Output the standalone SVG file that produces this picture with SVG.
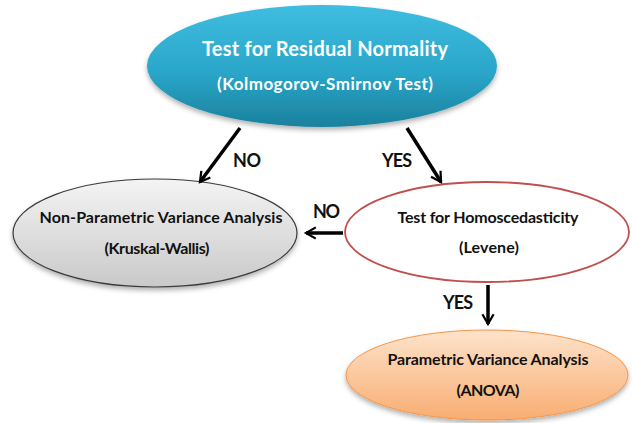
<svg xmlns="http://www.w3.org/2000/svg" width="633" height="423" viewBox="0 0 633 423">
<defs>
<linearGradient id="gBlue" x1="0" y1="0" x2="0" y2="1">
<stop offset="0" stop-color="#3fbde0"/>
<stop offset="0.55" stop-color="#2aa6c9"/>
<stop offset="1" stop-color="#1b819d"/>
</linearGradient>
<linearGradient id="gGrey" x1="0" y1="0" x2="0" y2="1">
<stop offset="0" stop-color="#f4f4f4"/>
<stop offset="1" stop-color="#c9c9c9"/>
</linearGradient>
<linearGradient id="gOrange" x1="0" y1="0" x2="0" y2="1">
<stop offset="0" stop-color="#fde3cc"/>
<stop offset="0.5" stop-color="#fbc89e"/>
<stop offset="1" stop-color="#f8ad72"/>
</linearGradient>
<filter id="shadow" x="-10%" y="-10%" width="120%" height="130%">
<feDropShadow dx="0" dy="3" stdDeviation="2.5" flood-color="#000" flood-opacity="0.3"/>
</filter>
<marker id="chev" viewBox="0 0 10 10" refX="8" refY="5" markerWidth="4" markerHeight="4" orient="auto" markerUnits="strokeWidth">
<path d="M1,1 L8,5 L1,9" fill="none" stroke="#000" stroke-width="1.6" stroke-linejoin="miter"/>
</marker>
<style>
.t { font-family: Lato, "Open Sans", "Liberation Sans", sans-serif; font-weight: bold; text-anchor: middle; }
.w { fill: #ffffff; }
.k { fill: #111111; }
.lbl { font-family: Lato, "Open Sans", "Liberation Sans", sans-serif; font-weight: bold; font-size: 18px; fill: #111; }
.conn { stroke: #000; stroke-width: 3.5; fill: none; marker-end: url(#chev); }
</style>
</defs>

<g id="normality">
<ellipse cx="322" cy="66" rx="175" ry="61" fill="url(#gBlue)" filter="url(#shadow)"/>
<text class="t w" x="325" y="56" font-size="20" textLength="246">Test for Residual Normality</text>
<text class="t w" x="325" y="90" font-size="17" textLength="216">(Kolmogorov-Smirnov Test)</text>
</g>

<g id="nonparametric">
<ellipse cx="155" cy="233" rx="142" ry="54" fill="url(#gGrey)" stroke="#3a3a3a" stroke-width="1.2" filter="url(#shadow)"/>
<text class="t k" x="161" y="223" font-size="16" textLength="243">Non-Parametric Variance Analysis</text>
<text class="t k" x="157" y="254" font-size="16" textLength="105">(Kruskal-Wallis)</text>
</g>

<g id="homoscedasticity">
<ellipse cx="487" cy="232" rx="142" ry="50" fill="#ffffff" stroke="#c0504d" stroke-width="1.8"/>
<text class="t k" x="488" y="223" font-size="16" textLength="181">Test for Homoscedasticity</text>
<text class="t k" x="489" y="253" font-size="16" textLength="60">(Levene)</text>
</g>

<g id="parametric">
<ellipse cx="487" cy="375" rx="141" ry="45" fill="url(#gOrange)" stroke="#f79646" stroke-width="1" filter="url(#shadow)"/>
<text class="t k" x="488" y="365" font-size="16" textLength="201">Parametric Variance Analysis</text>
<text class="t k" x="488" y="396" font-size="16" textLength="63">(ANOVA)</text>
</g>

<g id="connectors">
<line class="conn" x1="240" y1="128" x2="200" y2="182"/>
<line class="conn" x1="407" y1="128" x2="441" y2="182"/>
<line class="conn" x1="343" y1="233" x2="306" y2="233"/>
<line class="conn" x1="488" y1="285" x2="488" y2="324"/>
<text class="lbl" x="233" y="167" textLength="28">NO</text>
<text class="lbl" x="382" y="167" textLength="30">YES</text>
<text class="lbl" x="313" y="218" textLength="27">NO</text>
<text class="lbl" x="443" y="309" textLength="30">YES</text>
</g>
</svg>
